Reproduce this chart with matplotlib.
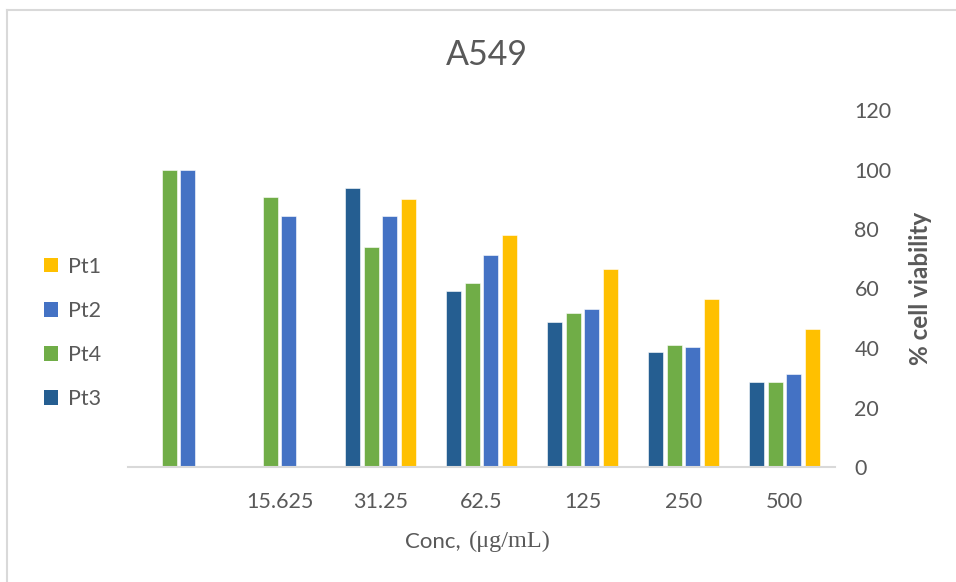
import numpy as np
import matplotlib.pyplot as plt
from matplotlib.patches import Patch

# dados de viabilidade celular (A549), % por concentração
categorias = ["", "15.625", "31.25", "62.5", "125", "250", "500"]
pt3 = [np.nan, np.nan, 93.8, 59.2, 48.7, 38.6, 28.7]
pt4 = [100.0, 90.7, 73.8, 61.7, 51.9, 40.9, 28.7]
pt2 = [100.0, 84.3, 84.3, 71.2, 53.1, 40.5, 31.2]
pt1 = [np.nan, np.nan, 90.2, 77.9, 66.4, 56.6, 46.4]

series = [("Pt3", pt3, "#255E91"), ("Pt4", pt4, "#70AD47"),
          ("Pt2", pt2, "#4472C4"), ("Pt1", pt1, "#FFC000")]

cinza = "#595959"
plt.rcParams["font.family"] = ["Lato", "DejaVu Sans"]

W, H = 956, 582
fig = plt.figure(figsize=(W / 100, H / 100), dpi=100)
ax = fig.add_axes([128 / W, 1 - 467 / H, (835 - 128) / W, (467 - 110) / H])

x = np.arange(len(categorias))
passo = 0.182
for i, (nome, vals, cor) in enumerate(series):
    ax.bar(x + (i - 1.5) * passo, vals, width=0.148, color=cor,
           edgecolor="white", linewidth=0.4, label=nome)

ax.set_xlim(-0.5, len(categorias) - 0.5)
ax.set_ylim(0, 120)
ax.set_yticks(range(0, 121, 20))
ax.set_xticks(x)
ax.set_xticklabels(categorias)

ax.yaxis.tick_right()
ax.tick_params(axis="y", length=0, pad=14, labelsize=15.5, labelcolor=cinza)
ax.tick_params(axis="x", length=0, pad=18, labelsize=15.5, labelcolor=cinza)
for lado in ["top", "left", "right"]:
    ax.spines[lado].set_visible(False)
ax.spines["bottom"].set_color("#d9d9d9")
ax.spines["bottom"].set_linewidth(1.5)

# títulos e rótulos
fig.text(487 / W, 1 - 55 / H, "A549", fontsize=24.5, color=cinza,
         ha="center", va="center")
fig.text(921 / W, 1 - 288 / H, "% cell viability", fontsize=17.5,
         fontweight="bold", color=cinza, rotation=90, ha="center", va="center")
fig.text(461 / W, 1 - 541 / H, "Conc,", fontsize=16, color=cinza,
         ha="right", va="center")
fig.text(469 / W, 1 - 541 / H, "(μg/mL)", fontsize=17.5, color=cinza,
         family="Liberation Serif", ha="left", va="center")

# legenda à esquerda (Pt1, Pt2, Pt4, Pt3)
ordem = ["Pt1", "Pt2", "Pt4", "Pt3"]
cores = {nome: cor for nome, _, cor in series}
alcas = [Patch(facecolor=cores[n], edgecolor="none") for n in ordem]
fig.legend(alcas, ordem, loc="center left", bbox_to_anchor=(25 / W, 1 - 333 / H),
           frameon=False, fontsize=15.5, labelcolor=cinza, handlelength=0.65,
           handleheight=0.65, handletextpad=0.45, labelspacing=1.12)

# borda da área do gráfico
fig.add_artist(plt.Line2D([7 / W, 7 / W], [0, 1 - 10 / H], color="#d9d9d9",
                          linewidth=1.5, transform=fig.transFigure))
fig.add_artist(plt.Line2D([7 / W, 1], [1 - 10 / H, 1 - 10 / H], color="#d9d9d9",
                          linewidth=1.5, transform=fig.transFigure))

fig.savefig("out.png", dpi=100, facecolor="white")
